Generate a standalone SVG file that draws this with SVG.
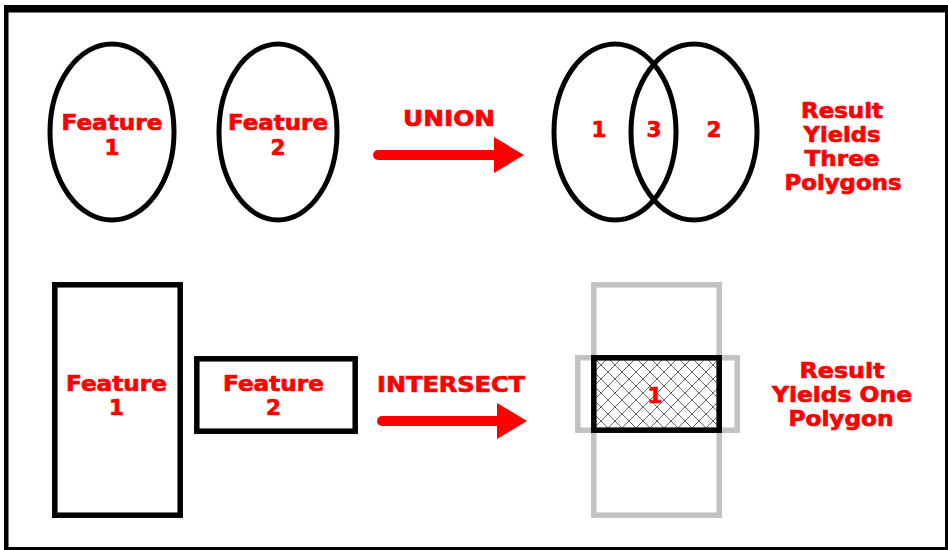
<svg xmlns="http://www.w3.org/2000/svg" width="948" height="550" viewBox="0 0 948 550">
<style>
.shape{fill:none;stroke:#000;stroke-width:5}
.box{fill:none;stroke:#000;stroke-width:5.5}
.ghost{fill:none;stroke:#c2c2c2;stroke-width:5.5}
.lbl{font-family:"DejaVu Sans",Verdana,sans-serif;font-weight:bold;font-size:21.5px;fill:#ff0000;stroke:#ff0000;stroke-width:0.7;text-anchor:middle}
.arrow{stroke:#ff0000;stroke-width:10;stroke-linecap:round;fill:none}
</style>
<defs>
<marker id="head" markerUnits="userSpaceOnUse" markerWidth="32" markerHeight="38" refX="0" refY="18" orient="auto">
<path d="M0,0 L30,18 L0,36 Z" fill="#ff0000"/>
</marker>
<pattern id="hatch" patternUnits="userSpaceOnUse" width="14" height="14" x="594" y="358">
<path d="M0,0 L14,14 M14,0 L0,14" stroke="#666" stroke-width="1" fill="none"/>
</pattern>
</defs>
<rect x="4" y="5" width="944" height="545" fill="#000"/>
<rect x="8.5" y="12.5" width="936.5" height="534.5" fill="#fff"/>

<g id="feature1-ellipse">
<ellipse class="shape" cx="112" cy="132" rx="62" ry="88"/>
<text class="lbl" x="112" y="130" textLength="101" lengthAdjust="spacingAndGlyphs">Feature</text>
<text class="lbl" x="112" y="155">1</text>
</g>
<g id="feature2-ellipse">
<ellipse class="shape" cx="278" cy="132" rx="59" ry="88"/>
<text class="lbl" x="278" y="130" textLength="100" lengthAdjust="spacingAndGlyphs">Feature</text>
<text class="lbl" x="278" y="155">2</text>
</g>

<g id="union-result">
<ellipse class="shape" cx="615" cy="132" rx="61" ry="88"/>
<ellipse class="shape" cx="694" cy="132" rx="63" ry="88"/>
<text class="lbl" x="599" y="137">1</text>
<text class="lbl" x="654" y="137">3</text>
<text class="lbl" x="714" y="137">2</text>
</g>

<g id="union-caption">
<text class="lbl" x="842" y="118" textLength="82" lengthAdjust="spacingAndGlyphs">Result</text>
<text class="lbl" x="842" y="142" textLength="77" lengthAdjust="spacingAndGlyphs">Yields</text>
<text class="lbl" x="842" y="166" textLength="75" lengthAdjust="spacingAndGlyphs">Three</text>
<text class="lbl" x="843" y="190" textLength="117" lengthAdjust="spacingAndGlyphs">Polygons</text>
</g>

<g id="feature1-rect">
<rect class="box" x="54.8" y="284.8" width="125.4" height="230.4"/>
<text class="lbl" x="116.5" y="391" textLength="101" lengthAdjust="spacingAndGlyphs">Feature</text>
<text class="lbl" x="116.5" y="415">1</text>
</g>
<g id="feature2-rect">
<rect class="box" x="196.8" y="358.8" width="158.4" height="72.4"/>
<text class="lbl" x="273.5" y="391" textLength="101" lengthAdjust="spacingAndGlyphs">Feature</text>
<text class="lbl" x="273.5" y="415">2</text>
</g>

<g id="intersect-result">
<rect class="ghost" x="593.8" y="284.8" width="125.4" height="230.4"/>
<rect class="ghost" x="577.8" y="357.8" width="159.4" height="72.4"/>
<rect x="594" y="358" width="125" height="72" fill="url(#hatch)"/>
<rect class="box" x="593.8" y="357.8" width="125.4" height="72.4"/>
<text class="lbl" x="655" y="403">1</text>
</g>

<g id="intersect-caption">
<text class="lbl" x="842" y="378" textLength="85" lengthAdjust="spacingAndGlyphs">Result</text>
<text class="lbl" x="842" y="402" textLength="140" lengthAdjust="spacingAndGlyphs">Yields One</text>
<text class="lbl" x="841" y="426" textLength="105" lengthAdjust="spacingAndGlyphs">Polygon</text>
</g>

<g id="connectors">
<g id="union-arrow">
<line class="arrow" x1="378" y1="155" x2="494" y2="155" marker-end="url(#head)"/>
<text class="lbl" x="449" y="126" textLength="92" lengthAdjust="spacingAndGlyphs">UNION</text>
</g>
<g id="intersect-arrow">
<line class="arrow" x1="382" y1="421" x2="497" y2="421" marker-end="url(#head)"/>
<text class="lbl" x="451" y="392" textLength="148" lengthAdjust="spacingAndGlyphs">INTERSECT</text>
</g>
</g>
</svg>
